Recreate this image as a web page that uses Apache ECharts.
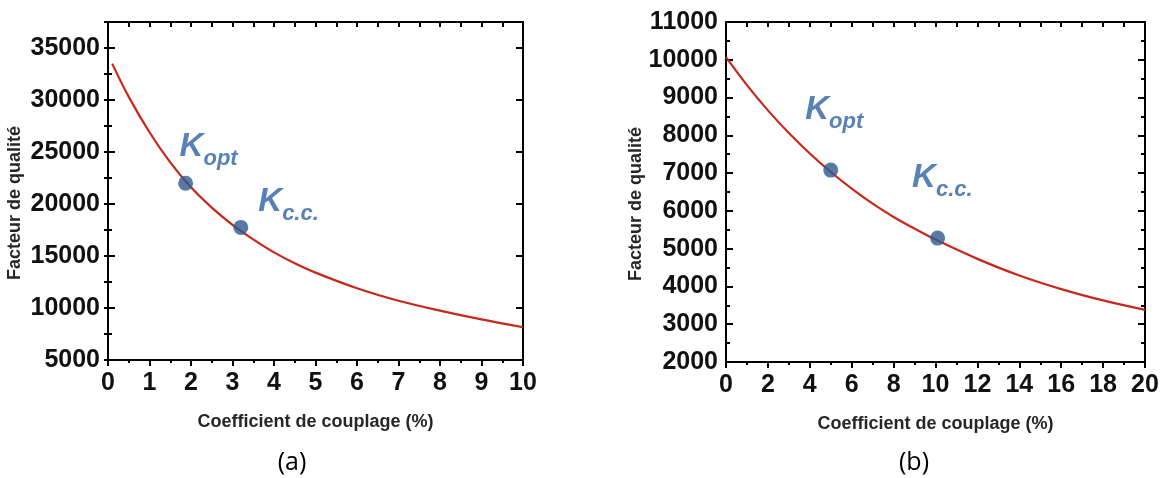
<!DOCTYPE html>
<html>
<head>
<meta charset="utf-8">
<script src="https://cdn.jsdelivr.net/npm/echarts@6/dist/echarts.min.js"></script>
<style>
html,body{margin:0;padding:0;background:#fff;}
#chart{width:1166px;height:478px;}
</style>
</head>
<body>
<div id="chart"></div>
<script>
// ---------- data (a) ----------
const kA = [0.1, 0.5, 1, 1.5, 2, 2.5, 3, 3.5, 4, 4.5, 5, 6, 7, 8, 9, 10];
const qA = [33500, 30300, 26900, 24000, 21600, 19650, 18000, 16600, 15350, 14300, 13400, 11900, 10700, 9750, 8900, 8150];
const pointsA = [{name: 'opt', k: 1.87, q: 22000}, {name: 'c.c.', k: 3.2, q: 17750}];
const xTicksA = [0, 1, 2, 3, 4, 5, 6, 7, 8, 9, 10];
const yTicksA = [5000, 10000, 15000, 20000, 25000, 30000, 35000];
const yMaxA = 37500;

// ---------- data (b) ----------
const kB = [0, 1, 2, 3, 4, 5, 6, 7, 8, 9, 10, 12, 14, 16, 18, 20];
const qB = [10070, 9330, 8660, 8060, 7520, 7030, 6590, 6190, 5840, 5530, 5240, 4730, 4290, 3930, 3630, 3380];
const pointsB = [{name: 'opt', k: 5.0, q: 7080}, {name: 'c.c.', k: 10.1, q: 5280}];
const xTicksB = [0, 2, 4, 6, 8, 10, 12, 14, 16, 18, 20];
const yTicksB = [2000, 3000, 4000, 5000, 6000, 7000, 8000, 9000, 10000, 11000];

const xTitle = 'Coefficient de couplage (%)';
const yTitle = 'Facteur de qualité';
const panelLabels = ['(a)', '(b)'];

// ---------- styles ----------
const FONT = "'Liberation Sans', Arial, sans-serif";
const RED = '#C8281C';
const DOT = '#2D5A8E';
const LBL = '#2E61A3';

function xAxisPair(grid, ticks) {
  const base = {
    type: 'value', gridIndex: grid,
    min: ticks[0], max: ticks[ticks.length - 1], interval: ticks[1] - ticks[0],
    splitLine: {show: false}, minorSplitLine: {show: false},
    axisLine: {show: true, onZero: false, lineStyle: {color: '#000', width: 2}}
  };
  return [
    Object.assign({}, base, {
      position: 'bottom',
      axisTick: {show: true, inside: false, length: 6, lineStyle: {color: '#000', width: 2}},
      minorTick: {show: true, splitNumber: 2, length: 3, lineStyle: {color: '#000', width: 2}},
      axisLabel: {show: true, margin: 11, color: '#111', fontFamily: FONT, fontWeight: 'bold', fontSize: 25,
        formatter: v => String(v)},
      name: xTitle, nameLocation: 'middle', nameGap: 53,
      nameTextStyle: {color: '#262626', fontFamily: FONT, fontWeight: 'bold', fontSize: 18}
    }),
    Object.assign({}, base, {
      position: 'top',
      axisTick: {show: true, inside: true, length: 5, lineStyle: {color: '#000', width: 2}},
      minorTick: {show: true, splitNumber: 2, length: 5, lineStyle: {color: '#000', width: 2}},
      axisLabel: {show: false}
    })
  ];
}

function yAxisSet(grid, ticks, max, nameGap, withMinorAxis) {
  const interval = ticks[1] - ticks[0];
  const base = {
    type: 'value', gridIndex: grid,
    min: ticks[0], max: max, interval: interval,
    splitLine: {show: false}, minorSplitLine: {show: false},
    axisLine: {show: true, onZero: false, lineStyle: {color: '#000', width: 2}},
    axisTick: {show: true, inside: true, length: 7, lineStyle: {color: '#000', width: 2}}
  };
  const minor = withMinorAxis ? {show: false} :
    {show: true, splitNumber: 2, length: 4, lineStyle: {color: '#000', width: 2}};
  const axes = [
    Object.assign({}, base, {
      position: 'left',
      minorTick: minor,
      axisLabel: {show: true, margin: 8, color: '#111', fontFamily: FONT, fontWeight: 'bold', fontSize: 25,
        showMaxLabel: max === ticks[ticks.length - 1], formatter: v => String(v)},
      name: yTitle, nameLocation: 'middle', nameGap: nameGap, nameRotate: 90,
      nameTextStyle: {color: '#262626', fontFamily: FONT, fontWeight: 'bold', fontSize: 18, padding: [0, 24, 0, 0]}
    }),
    Object.assign({}, base, {position: 'right', minorTick: minor, axisLabel: {show: false}})
  ];
  if (withMinorAxis) {
    ['left', 'right'].forEach(p => {
      axes.push(Object.assign({}, base, {
        position: p, interval: interval / 2,
        axisLine: {show: false},
        axisTick: {show: true, inside: true, length: 4, lineStyle: {color: '#000', width: 2}},
        axisLabel: {show: false}
      }));
    });
  }
  return axes;
}

function curve(xi, yi, ks, qs) {
  return {
    type: 'line', xAxisIndex: xi, yAxisIndex: yi, smooth: 0.35, showSymbol: false, symbol: 'none',
    lineStyle: {color: RED, width: 2.2}, data: ks.map((k, i) => [k, qs[i]]), z: 2
  };
}

function dots(xi, yi, pts, offsets) {
  return {
    type: 'scatter', xAxisIndex: xi, yAxisIndex: yi, symbolSize: 15, z: 3,
    itemStyle: {color: DOT},
    data: pts.map((p, i) => ({
      value: [p.k, p.q],
      label: {
        show: true, position: offsets[i], align: 'left', verticalAlign: 'bottom',
        formatter: '{k|K}{s|' + p.name + '}',
        rich: {
          k: {color: LBL, fontFamily: FONT, fontWeight: 'bold', fontStyle: 'italic', fontSize: 33,
              lineHeight: 34, padding: [0, 0, 6, 0], verticalAlign: 'bottom'},
          s: {color: LBL, fontFamily: FONT, fontWeight: 'bold', fontStyle: 'italic', fontSize: 22,
              lineHeight: 22, verticalAlign: 'bottom'}
        }
      }
    }))
  };
}

const yA = yAxisSet(0, yTicksA, yMaxA, 84, true);   // indices 0..3
const yB = yAxisSet(1, yTicksB, yTicksB[yTicksB.length - 1], 81, false); // indices 4..5
const xA = xAxisPair(0, xTicksA); // 0,1
const xB = xAxisPair(1, xTicksB); // 2,3

const option = {
  animation: false,
  backgroundColor: '#fff',
  grid: [
    {left: 108, right: 643, top: 22, bottom: 118, containLabel: false},
    {left: 726, right: 21, top: 22, bottom: 116, containLabel: false}
  ],
  xAxis: xA.concat(xB),
  yAxis: yA.concat(yB),
  series: [
    curve(0, 0, kA, qA),
    dots(0, 0, pointsA, [[1.5, -6], [25, 5]]),
    curve(2, 4, kB, qB),
    dots(2, 4, pointsB, [[-18, -30], [-18, -30]])
  ],
  graphic: [
    {type: 'text', x: 292, y: 463, style: {text: panelLabels[0], font: "25px 'Open Sans', sans-serif", fill: '#000', align: 'center', verticalAlign: 'middle'}},
    {type: 'text', x: 914, y: 463, style: {text: panelLabels[1], font: "25px 'Open Sans', sans-serif", fill: '#000', align: 'center', verticalAlign: 'middle'}}
  ]
};

const chart = echarts.init(document.getElementById('chart'), null, {renderer: 'canvas'});
chart.setOption(option);
</script>
</body>
</html>
